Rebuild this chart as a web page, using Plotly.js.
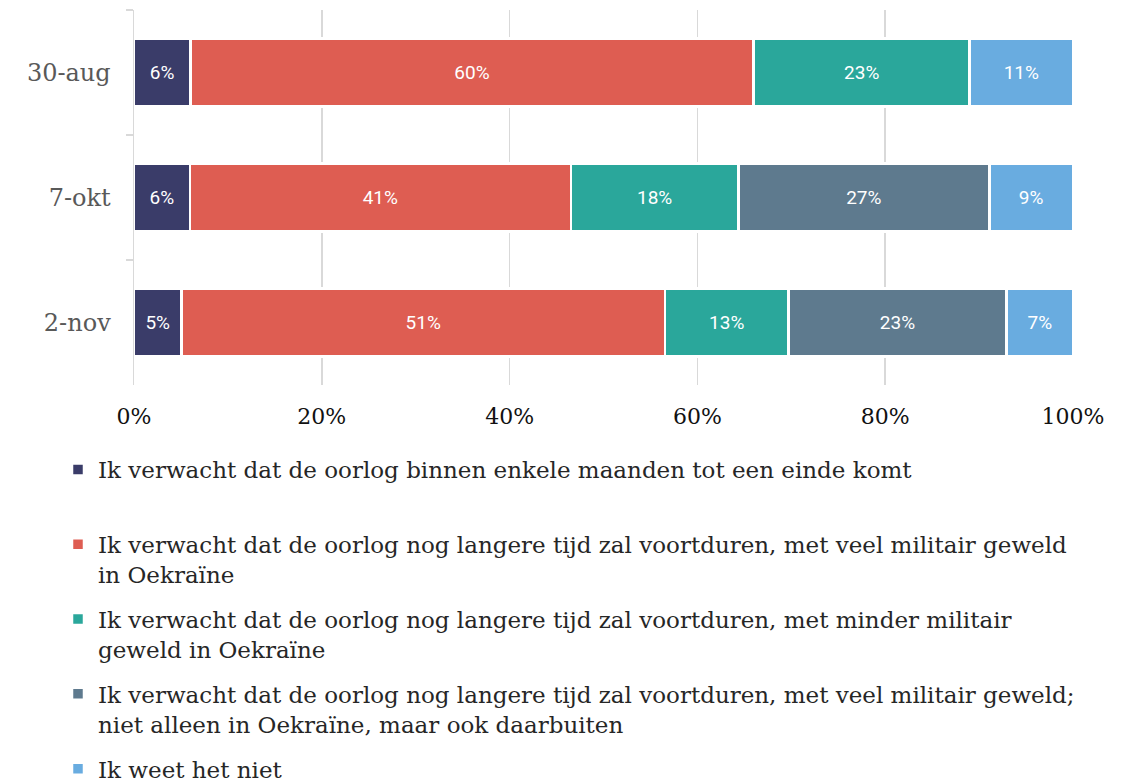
<!DOCTYPE html>
<html>
<head>
<meta charset="utf-8">
<script src="https://cdn.plot.ly/plotly-3.0.1.min.js"></script>
<style>
  html, body { margin: 0; padding: 0; background: #fff; }
  #chart { width: 1133px; height: 784px; }
</style>
</head>
<body>
<div id="chart"></div>
<script>

// survey moments (top to bottom)
var dates = ["30-aug", "7-okt", "2-nov"]

var seriesNames = [
  "Ik verwacht dat de oorlog binnen enkele maanden tot een einde komt<br> ",
  "Ik verwacht dat de oorlog nog langere tijd zal voortduren, met veel militair geweld<br>in Oekraïne",
  "Ik verwacht dat de oorlog nog langere tijd zal voortduren, met minder militair<br>geweld in Oekraïne",
  "Ik verwacht dat de oorlog nog langere tijd zal voortduren, met veel militair geweld;<br>niet alleen in Oekraïne, maar ook daarbuiten",
  "Ik weet het niet"
]

var snelEinde = [6, 6, 5]
var veelGeweld = [60, 41, 51]
var minderGeweld = [23, 18, 13]
var ookDaarbuiten = [null, 27, 23]
var weetNiet = [11, 9, 7]

var seriesColors = ["#3a3c69", "#de5d52", "#2aa79b", "#5e7a8e", "#69ace0"]

var allValues = [snelEinde, veelGeweld, minderGeweld, ookDaarbuiten, weetNiet]

var serif = "DejaVu Serif, Liberation Serif, serif"

var traces = []
allValues.forEach(function(vals, i) {
  traces.push({
    type: 'bar',
    orientation: 'h',
    name: seriesNames[i],
    legendgroup: 'g' + i,
    y: dates,
    x: vals,
    text: vals.map(function(v) { return v === null ? '' : v + '%' }),
    textposition: 'inside',
    insidetextanchor: 'middle',
    textangle: 0,
    constraintext: 'none',
    textfont: { family: 'Roboto, sans-serif', size: 19, color: '#ffffff' },
    marker: { color: seriesColors[i], line: { color: '#ffffff', width: 2.5 } },
    hoverinfo: 'none'
  })
})

var layout = {
  width: 1133,
  height: 784,
  barmode: 'stack',
  barnorm: 'percent',
  bargap: 0.455,
  margin: { l: 134, r: 60, t: 10, b: 399, autoexpand: false },
  paper_bgcolor: '#ffffff',
  plot_bgcolor: '#ffffff',
  showlegend: true,
  xaxis: {
    range: [0, 100],
    tickvals: [0, 20, 40, 60, 80, 100],
    ticktext: ["0%", "20%", "40%", "60%", "80%", "100%"],
    tickangle: 0,
    showgrid: true,
    gridcolor: '#d9d9d9',
    gridwidth: 1.5,
    zeroline: false,
    showline: false,
    ticks: '',
    ticklabelstandoff: 16,
    tickfont: { family: serif, size: 22, color: '#111111' },
    fixedrange: true
  },
  yaxis: {
    type: 'category',
    autorange: 'reversed',
    showgrid: false,
    zeroline: false,
    showline: true,
    linecolor: '#d9d9d9',
    linewidth: 1.5,
    ticks: 'outside',
    tickson: 'boundaries',
    ticklen: 7,
    tickcolor: '#d9d9d9',
    tickwidth: 1.5,
    ticklabelstandoff: 17,
    tickfont: { family: serif, size: 24, color: '#595959' },
    fixedrange: true
  },
  legend: {
    orientation: 'v',
    traceorder: 'grouped',
    xref: 'container',
    yref: 'container',
    x: 58 / 1133,
    y: 1 - 448 / 784,
    xanchor: 'left',
    yanchor: 'top',
    valign: 'top',
    tracegroupgap: 12,
    font: { family: serif, size: 23, color: '#262626' },
    bgcolor: 'rgba(0,0,0,0)'
  }
}

Plotly.newPlot('chart', traces, layout, { displayModeBar: false, staticPlot: true })

</script>
</body>
</html>
